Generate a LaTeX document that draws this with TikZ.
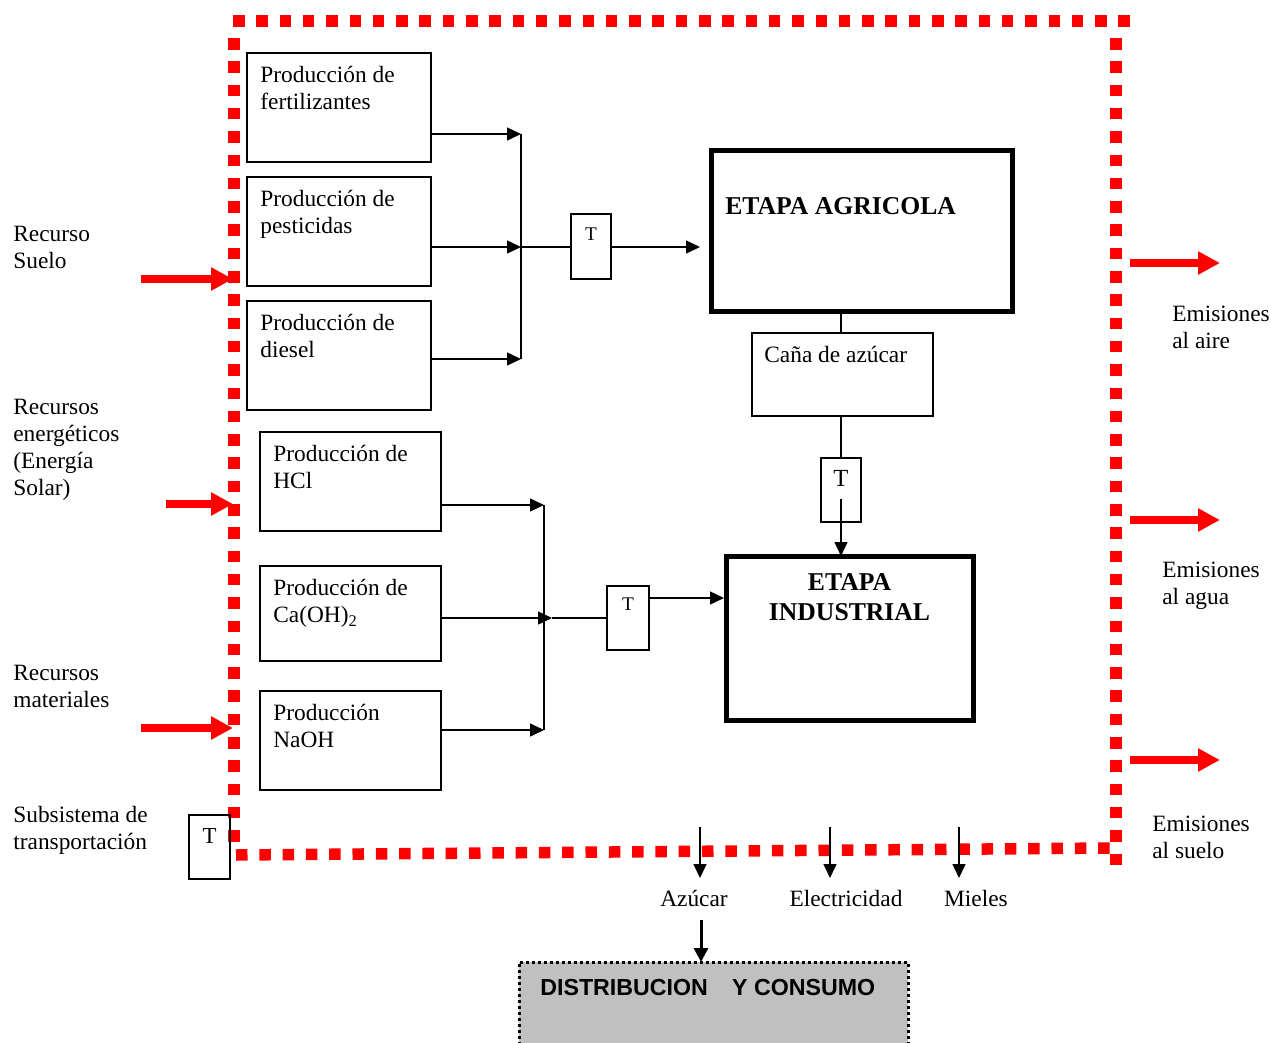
\documentclass[tikz,border=0pt]{standalone}
\usepackage{fontspec}
\setmainfont{Liberation Serif}
\newfontfamily\arialfont{Liberation Sans}
\usetikzlibrary{arrows.meta}
\definecolor{grisdist}{HTML}{C0C0C0}
\tikzset{
	caja/.style={draw, line width=0.3mm, anchor=north west, inner sep=0pt, outer sep=0pt},
	etapa/.style={draw, line width=1mm, anchor=north west, inner sep=0pt, outer sep=0pt},
	texto/.style={anchor=north west, align=left, inner sep=0pt, font=\fontsize{13.3}{15.4}\selectfont},
	letrat/.style={anchor=north, inner sep=0pt},
	flecha/.style={line width=0.3mm, -{Triangle[length=2.8mm,width=2.6mm]}},
	flecharoja/.style={draw=red, line width=1.5mm, -{Triangle[length=4.4mm,width=4.4mm]}},
	borde/.style={draw=red, line width=2.3mm, dash pattern=on 2.3mm off 2.36mm},
}

\begin{document}
\begin{tikzpicture}[x=0.2mm,y=-0.2mm]
			\useasboundingbox (0,0) rectangle (1271,1043);
			%%%%% LIMITE DEL SISTEMA %%%%%
			\draw[borde] (233,21) -- (1134,21);
			\draw[borde] (234,38) -- (234,845);
			\draw[borde] (1116,38) -- (1116,865);
			\draw[borde] (236,855) -- (1110,848);
			
			%%%%% ETAPA AGRICOLA %%%%%
			\node[caja, minimum width=36.8mm, minimum height=21.8mm] (fert) at (247,53) {};
			\node[caja, minimum width=36.8mm, minimum height=21.8mm] (pest) at (247,177) {};
			\node[caja, minimum width=36.8mm, minimum height=21.8mm] (dies) at (247,301) {};
			\node[texto] (tfert) at ([xshift=2.6mm,yshift=-2.6mm]fert.north west) {Producción de\\fertilizantes};
			\node[texto] (tpest) at ([xshift=2.6mm,yshift=-2.6mm]pest.north west) {Producción de\\pesticidas};
			\node[texto] (tdies) at ([xshift=2.6mm,yshift=-2.6mm]dies.north west) {Producción de\\diesel};
			
			\coordinate (ja) at (521,134);
			\coordinate (jb) at (521,247);
			\coordinate (jc) at (521,359);
			\draw[flecha] (fert.east |- ja) -- (ja);
			\draw[flecha] (pest.east |- jb) -- (jb);
			\draw[flecha] (dies.east |- jc) -- (jc);
			\draw[line width=0.3mm] (ja) -- (jc);
			
			\node[caja, minimum width=8mm, minimum height=13mm] (ta) at (571,214) {};
			\node[letrat, font=\fontsize{11}{13}\selectfont] (lta) at ([yshift=-2.6mm]ta.north) {T};
			\draw[line width=0.3mm] (jb) -- (ta.west |- jb);
			\coordinate (agrin) at (700,247);
			\draw[flecha] (ta.east |- agrin) -- (agrin);
			
			\node[etapa, minimum width=60.2mm, minimum height=32.2mm] (agri) at (711,150) {};
			\node[anchor=north west, inner sep=0pt, font=\fontsize{14.6}{17}\selectfont\bfseries] (tagri) at ([xshift=2.8mm,yshift=-9.4mm]agri.north west) {ETAPA AGRICOLA};
			
			\node[caja, minimum width=36.2mm, minimum height=16.6mm] (cana) at (752,333) {};
			\node[texto] (tcana) at ([xshift=2.4mm,yshift=-2.6mm]cana.north west) {Caña de azúcar};
			
			\node[caja, minimum width=8mm, minimum height=12.8mm] (tb) at (821,458) {};
			\node[letrat, font=\fontsize{14}{16}\selectfont] (ltb) at ([yshift=-2.4mm]tb.north) {T};
			\draw[line width=0.3mm] (tb.north |- cana.north) -- (tb.north |- agri.south);
			\draw[line width=0.3mm] (tb.north |- cana.south) -- (tb.north);
			
			%%%%% ETAPA INDUSTRIAL %%%%%
			\node[caja, minimum width=36.2mm, minimum height=19.8mm] (hcl) at (260,432) {};
			\node[caja, minimum width=36.2mm, minimum height=19mm] (caoh) at (260,566) {};
			\node[caja, minimum width=36.2mm, minimum height=19.8mm] (naoh) at (260,691) {};
			\node[texto] (thcl) at ([xshift=2.6mm,yshift=-2.6mm]hcl.north west) {Producción de\\HCl};
			\node[texto] (tcaoh) at ([xshift=2.6mm,yshift=-2.6mm]caoh.north west) {Producción de\\Ca(OH)\textsubscript{2}};
			\node[texto] (tnaoh) at ([xshift=2.6mm,yshift=-2.6mm]naoh.north west) {Producción\\NaOH};
			
			\coordinate (jd) at (544,505);
			\coordinate (je) at (552,618);
			\coordinate (jf) at (544,730);
			\draw[flecha] (hcl.east |- jd) -- (jd);
			\draw[flecha] (caoh.east |- je) -- (je);
			\draw[flecha] (naoh.east |- jf) -- (jf);
			\draw[line width=0.3mm] (jd) -- (jf);
			
			\node[caja, minimum width=8.4mm, minimum height=12.8mm] (tc) at (607,586) {};
			\node[letrat, font=\fontsize{11}{13}\selectfont] (ltc) at ([yshift=-2.2mm]tc.north) {T};
			\draw[line width=0.3mm] (je) -- (tc.west |- je);
			
			\node[etapa, minimum width=49.4mm, minimum height=32.8mm] (ind) at (726,556) {};
			\node[anchor=north, align=center, inner sep=0pt, font=\fontsize{14.6}{17}\selectfont\bfseries] (tind) at ([yshift=-3.4mm]ind.north) {ETAPA\\INDUSTRIAL};
			\coordinate (indin) at (724,598);
			\draw[flecha] (tc.east |- indin) -- (indin);
			\coordinate (tbin) at (841,499);
			\draw[flecha] (tbin) -- (tbin |- ind.north);
			
			%%%%% ENTRADAS %%%%%
			\node[texto] (lsuelo) at (13,226) {Recurso\\Suelo};
			\node[texto] (lener) at (13,399) {Recursos\\energéticos\\(Energía\\Solar)};
			\node[texto] (lmat) at (13,665) {Recursos\\materiales};
			\node[texto] (ltrans) at (13,806) {Subsistema de\\transportación};
			\coordinate (ea) at (141,279);
			\coordinate (eb) at (166,504);
			\coordinate (ec) at (141,728);
			\draw[flecharoja] (ea) -- ++(92,0);
			\draw[flecharoja] (eb) -- ++(67,0);
			\draw[flecharoja] (ec) -- ++(92,0);
			\node[caja, minimum width=8.2mm, minimum height=12.8mm] (td) at (189,815) {};
			\node[letrat, font=\fontsize{13}{15}\selectfont] (ltd) at ([yshift=-2.6mm]td.north) {T};
			
			%%%%% EMISIONES %%%%%
			\coordinate (sa) at (1130,263);
			\coordinate (sb) at (1130,520);
			\coordinate (sc) at (1130,760);
			\draw[flecharoja] (sa) -- ++(90,0);
			\draw[flecharoja] (sb) -- ++(90,0);
			\draw[flecharoja] (sc) -- ++(90,0);
			\node[texto] (laire) at (1172,306) {Emisiones\\al aire};
			\node[texto] (lagua) at (1162,562) {Emisiones\\al agua};
			\node[texto] (lsuel) at (1152,816) {Emisiones\\al suelo};
			
			%%%%% PRODUCTOS %%%%%
			\coordinate (pa) at (700,827);
			\coordinate (pb) at (830,827);
			\coordinate (pc) at (959,827);
			\draw[flecha] (pa) -- ++(0,51);
			\draw[flecha] (pb) -- ++(0,51);
			\draw[flecha] (pc) -- ++(0,51);
			\node[texto, anchor=north] (lazu) at (694,890) {Azúcar};
			\node[texto, anchor=north] (lelec) at (846,890) {Electricidad};
			\node[texto, anchor=north] (lmiel) at (976,890) {Mieles};
			
			\node[draw, fill=grisdist, line width=0.6mm, dash pattern=on 0.6mm off 0.6mm, anchor=north west, inner sep=0pt, outer sep=0pt, minimum width=77.8mm, minimum height=18mm] (dist) at (519,962) {};
			\node[anchor=north west, inner sep=0pt, font=\arialfont\fontsize{13.2}{15}\selectfont\bfseries] (tdist) at ([xshift=4.2mm,yshift=-3.4mm]dist.north west) {DISTRIBUCION\hspace{1.05em}Y CONSUMO};
			\coordinate (pd) at (701,920);
			\draw[line width=0.6mm, -{Triangle[length=2.8mm,width=2.8mm]}] (pd) -- (pd |- dist.north);
\end{tikzpicture}
\end{document}
